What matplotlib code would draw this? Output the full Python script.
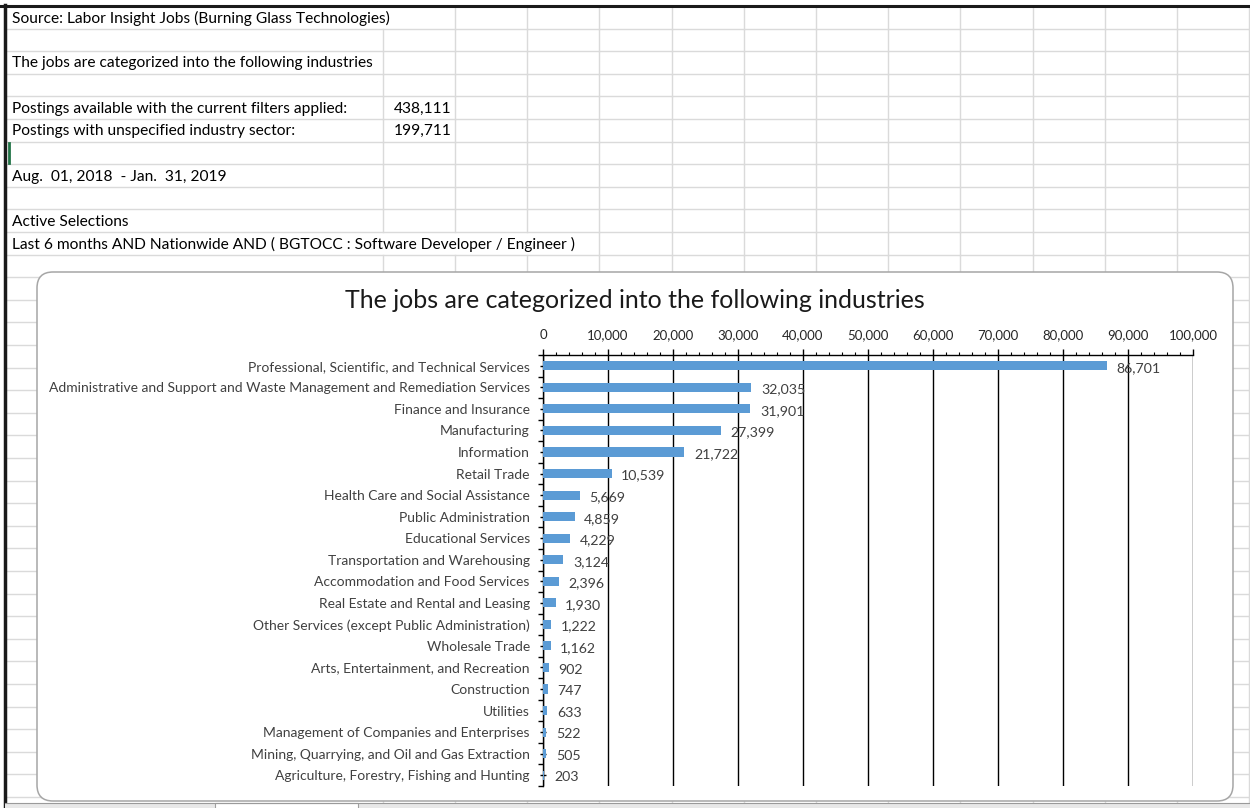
import matplotlib
matplotlib.use("Agg")
import matplotlib.pyplot as plt
from matplotlib.patches import FancyBboxPatch, Rectangle
from matplotlib.ticker import MultipleLocator, FuncFormatter

industries = [
    "Professional, Scientific, and Technical Services",
    "Administrative and Support and Waste Management and Remediation Services",
    "Finance and Insurance",
    "Manufacturing",
    "Information",
    "Retail Trade",
    "Health Care and Social Assistance",
    "Public Administration",
    "Educational Services",
    "Transportation and Warehousing",
    "Accommodation and Food Services",
    "Real Estate and Rental and Leasing",
    "Other Services (except Public Administration)",
    "Wholesale Trade",
    "Arts, Entertainment, and Recreation",
    "Construction",
    "Utilities",
    "Management of Companies and Enterprises",
    "Mining, Quarrying, and Oil and Gas Extraction",
    "Agriculture, Forestry, Fishing and Hunting",
]
postings = [86701, 32035, 31901, 27399, 21722, 10539, 5669, 4859, 4229, 3124,
            2396, 1930, 1222, 1162, 902, 747, 633, 522, 505, 203]

title = "The jobs are categorized into the following industries"

# spreadsheet cells: row number -> text
sheet_text = {
    1: "Source: Labor Insight Jobs (Burning Glass Technologies)",
    3: title,
    5: "Postings available with the current filters applied:",
    6: "Postings with unspecified industry sector:",
    8: "Aug.  01, 2018  - Jan.  31, 2019",
    10: "Active Selections",
    11: "Last 6 months AND Nationwide AND ( BGTOCC : Software Developer / Engineer )",
}
sheet_values = {5: "438,111", 6: "199,711"}

W, H = 1250, 808
plt.rcParams['font.family'] = ['Lato', 'DejaVu Sans']

fig = plt.figure(figsize=(W / 100, H / 100), dpi=100)
fig.patch.set_facecolor('white')

# background "sheet" in pixel coordinates
bg = fig.add_axes([0, 0, 1, 1], zorder=0)
bg.set_xlim(0, W)
bg.set_ylim(H, 0)
bg.axis('off')

top = 6
row_h = 22.6
grid_c = '#dadada'
cols = [383] + [455 + 72.2 * k for k in range(12)]
overflow = {1: 398, 11: 572}
n_rows = int((H - top) / row_h) + 1

for r in range(1, n_rows + 1):
    y = top + r * row_h
    bg.plot([5, W], [y, y], color=grid_c, lw=1, zorder=1)
for r in range(1, n_rows + 1):
    y0, y1 = top + (r - 1) * row_h, top + r * row_h
    for x in cols:
        if r in overflow and x < overflow[r]:
            continue
        bg.plot([x, x], [y0, y1], color=grid_c, lw=1, zorder=1)

for r, s in sheet_text.items():
    bg.text(12, top + (r - 0.5) * row_h + 1, s, ha='left', va='center',
            fontsize=11.2, color='black', zorder=2)
for r, s in sheet_values.items():
    bg.text(452, top + (r - 0.5) * row_h + 1, s, ha='right', va='center',
            fontsize=11.2, color='black', zorder=2)

# borders, cursor, tab strip
bg.plot([0, W], [5.5, 5.5], color='#1a1a1a', lw=2.2, zorder=3)
bg.plot([4.5, 4.5], [5, H], color='#1a1a1a', lw=2.5, zorder=3)
bg.plot([8.5, 8.5], [143, 163], color='#217346', lw=2, zorder=3)
bg.add_patch(Rectangle((5, 803), W - 5, 6, fc='#e8e8e8', ec='none', zorder=3))
bg.add_patch(Rectangle((215, 803), 143, 6, fc='white', ec='#a0a0a0', lw=0.8, zorder=3))
bg.plot([5, W], [803, 803], color='#9a9a9a', lw=0.8, zorder=3)

# chart frame
bg.add_patch(FancyBboxPatch((37, 272), 1196, 529,
                            boxstyle='round,pad=0,rounding_size=16',
                            fc='white', ec='#a6a6a6', lw=1.1, zorder=4))
bg.text(635, 300, title, ha='center', va='center', fontsize=18,
        color='#1a1a1a', zorder=5)

# bar chart
ax = fig.add_axes([543 / W, 1 - 786 / H, 650 / W, 431 / H], zorder=1)
ax.patch.set_alpha(0)
y = list(range(len(industries)))
ax.barh(y, postings, height=0.42, color='#5B9BD5', zorder=3)
for yi, v in zip(y, postings):
    ax.annotate(f"{v:,}", (v, yi), xytext=(7, -1.5), textcoords='offset points',
                ha='left', va='center', fontsize=10.2, color='#404040', zorder=4)

ax.set_xlim(0, 100000)
ax.set_ylim(len(industries) - 0.5, -0.5)
ax.xaxis.set_major_locator(MultipleLocator(10000))
ax.xaxis.set_minor_locator(MultipleLocator(2000))
ax.xaxis.set_major_formatter(FuncFormatter(lambda v, p: f"{int(v):,}"))
ax.xaxis.tick_top()
ax.tick_params(axis='x', which='major', length=4, width=1, direction='out',
               pad=6, labelsize=9.5, labelcolor='#262626')
ax.tick_params(axis='x', which='minor', length=2.5, width=0.8, direction='out')
ax.grid(axis='x', which='major', color='black', lw=1, zorder=1)

ax.set_yticks(y)
ax.set_yticklabels(industries)
ax.set_yticks([i + 0.5 for i in range(-1, len(industries))], minor=True)
ax.tick_params(axis='y', which='major', length=5, width=1, direction='inout',
               pad=7, labelsize=10, labelcolor='#404040')
ax.tick_params(axis='y', which='minor', length=3.5, width=1, direction='out')

for side in ['right', 'bottom']:
    ax.spines[side].set_visible(False)
for side in ['left', 'top']:
    ax.spines[side].set_color('black')
    ax.spines[side].set_linewidth(1)

fig.savefig('out.png', dpi=100, facecolor='white')
